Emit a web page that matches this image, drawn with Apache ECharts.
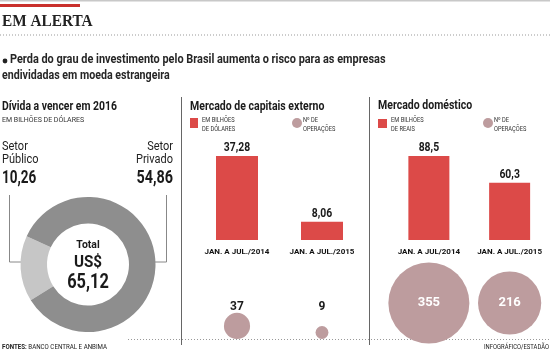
<!DOCTYPE html>
<html>
<head>
<meta charset="utf-8">
<script src="https://cdn.jsdelivr.net/npm/echarts@6/dist/echarts.min.js"></script>
<style>
  html, body { margin: 0; padding: 0; background: #fff; }
  #chart { width: 550px; height: 352px; }
</style>
</head>
<body>
<div id="chart"></div>
<script>
// dívida a vencer em 2016 (bilhões de dólares)
const sectorNames = ['Setor\nPúblico', 'Setor\nPrivado']
const sectorValues = [10.26, 54.86]
// mercado de capitais externo
const extCategories = ['JAN. A JUL./2014', 'JAN. A JUL./2015']
const extValues = [37.28, 8.06]
const extOps = [37, 9]
// mercado doméstico
const domCategories = ['JAN. A JUL/2014', 'JAN. A JUL./2015']
const domValues = [88.5, 60.3]
const domOps = [355, 216]

const RED = '#dc4a48'
const MAUVE = '#bd9c9e'
const SANS = "Roboto, 'Liberation Sans', sans-serif"
const SERIF = "'Liberation Serif', 'DejaVu Serif', serif"

const fmt = v => String(v).replace('.', ',')
// raio da bolha proporcional à raiz do nº de operações
const radius = v => 2.15 * Math.sqrt(v)

const total = sectorValues.reduce((a, b) => a + b, 0)

const myChart = echarts.init(document.getElementById('chart'))

// texto com compressão horizontal (a fonte original é condensada)
const txt = (text, x, y, font, opts = {}, sx = 1) => ({
  type: 'text', x, y, scaleX: sx,
  style: Object.assign({
    text, x: 0, y: 0, font, fill: '#1a1a1a',
    textAlign: 'left', textVerticalAlign: 'middle'
  }, opts)
})
const line = (x1, y1, x2, y2, opts = {}) => ({
  type: 'line',
  shape: { x1, y1, x2, y2 },
  style: Object.assign({ stroke: '#555', lineWidth: 1 }, opts)
})
const dotted = { stroke: '#999', lineWidth: 1, lineDash: [1, 2] }

const catAxis = (gridIndex, data, showLabel) => ({
  type: 'category', gridIndex, data,
  axisLine: { show: false }, axisTick: { show: false },
  axisLabel: {
    show: showLabel, margin: 8, color: '#111', interval: 0, hideOverlap: false,
    fontFamily: SANS, fontWeight: 'bold', fontSize: 8
  }
})
const valAxis = (gridIndex, min, max) => ({
  type: 'value', gridIndex, min, max, show: false,
  splitLine: { show: false }
})

// rótulo de valor acima da barra, condensado
const valueLabels = (axisIndex, values) => ({
  type: 'custom', xAxisIndex: axisIndex, yAxisIndex: axisIndex,
  silent: true,
  data: values.map((v, i) => [i, v]),
  renderItem: (params, api) => {
    const p = api.coord([api.value(0), api.value(1)])
    return {
      type: 'text', x: p[0], y: p[1] - 8, scaleX: 0.8,
      style: {
        text: fmt(api.value(1)), font: `bold 13px ${SANS}`, fill: '#1a1a1a',
        textAlign: 'center', textVerticalAlign: 'middle'
      }
    }
  }
})

const option = {
  animation: false,
  grid: [
    { left: 194.5, width: 170, top: 156, height: 84 },
    { left: 388.5, width: 170, top: 156, height: 84 },
    { left: 194.5, width: 170, top: 280, height: 59 },
    { left: 388.5, width: 170, top: 254, height: 100 }
  ],
  xAxis: [
    catAxis(0, extCategories, true),
    catAxis(1, domCategories, true),
    catAxis(2, extCategories, false),
    catAxis(3, domCategories, false)
  ],
  yAxis: [
    valAxis(0, 0, Math.max(...extValues)),
    valAxis(1, 0, Math.max(...domValues)),
    valAxis(2, 0, 1),
    valAxis(3, -1, 1)
  ],
  series: [
    {
      type: 'pie',
      center: [88, 264.5],
      radius: [41, 67.5],
      startAngle: 212,
      silent: true,
      label: { show: false },
      itemStyle: { borderWidth: 0 },
      data: sectorValues.map((v, i) => ({
        name: sectorNames[i], value: v,
        itemStyle: { color: i === 0 ? '#c6c6c6' : '#8e8e8e' }
      }))
    },
    {
      type: 'bar', xAxisIndex: 0, yAxisIndex: 0,
      data: extValues, barWidth: 42,
      itemStyle: { color: RED }
    },
    {
      type: 'bar', xAxisIndex: 1, yAxisIndex: 1,
      data: domValues, barWidth: 41,
      itemStyle: { color: RED }
    },
    valueLabels(0, extValues),
    valueLabels(1, domValues),
    {
      // bolhas apoiadas na linha de base, número acima
      type: 'scatter', xAxisIndex: 2, yAxisIndex: 2,
      data: extOps.map(v => ({
        value: 0, ops: v,
        symbolSize: radius(v) * 2,
        symbolOffset: [0, -radius(v)],
        label: { distance: Math.max(0, 26.5 - 2 * radius(v)) }
      })),
      itemStyle: { color: MAUVE, opacity: 1 },
      label: {
        show: true, position: 'top', color: '#1a1a1a',
        fontFamily: SANS, fontWeight: 'bold', fontSize: 12,
        formatter: p => String(p.data.ops)
      }
    },
    {
      type: 'scatter', xAxisIndex: 3, yAxisIndex: 3,
      data: domOps.map(v => ({ value: 0, ops: v, symbolSize: radius(v) * 2 })),
      itemStyle: { color: MAUVE, opacity: 1 },
      label: {
        show: true, position: 'inside', color: '#fff',
        fontFamily: SANS, fontWeight: 'bold', fontSize: 13,
        formatter: p => String(p.data.ops)
      }
    }
  ],
  graphic: [
    // cabeçalho
    { type: 'rect', shape: { x: 0, y: 0, width: 550, height: 1.5 }, style: { fill: '#c8c8c8' } },
    { type: 'rect', shape: { x: 0, y: 4, width: 80, height: 3 }, style: { fill: '#c9302c' } },
    txt('EM ALERTA', 2, 22, `bold 17px ${SERIF}`, { fill: '#222' }, 0.9),
    line(0, 35, 550, 35, dotted),
    { type: 'circle', shape: { cx: 5, cy: 61, r: 2.4 }, style: { fill: '#222' } },
    txt('Perda do grau de investimento pelo Brasil aumenta o risco para as empresas', 10, 60, `bold 13px ${SANS}`, { fill: '#262626' }, 0.84),
    txt('endividadas em moeda estrangeira', 2, 76, `bold 13px ${SANS}`, { fill: '#262626' }, 0.82),

    // painel 1
    txt('Dívida a vencer em 2016', 2, 107, `bold 13px ${SANS}`, {}, 0.8),
    txt('EM BILHÕES DE DÓLARES', 2, 120, `7px ${SANS}`, { fill: '#333' }, 1),
    txt(sectorNames[0], 2, 153.5, `12.5px ${SANS}`, { lineHeight: 13, fill: '#222' }, 0.88),
    txt(fmt(sectorValues[0]), 2, 178, `bold 18px ${SANS}`, {}, 0.75),
    txt(sectorNames[1], 173, 153.5, `12.5px ${SANS}`, { lineHeight: 13, fill: '#222', textAlign: 'right' }, 0.88),
    txt(fmt(sectorValues[1]), 173, 178, `bold 18px ${SANS}`, { textAlign: 'right' }, 0.8),
    line(9.5, 195, 9.5, 262, { stroke: '#888' }),
    line(9.5, 262, 22, 262, { stroke: '#888' }),
    line(166.5, 195, 166.5, 262, { stroke: '#888' }),
    line(152, 262, 166.5, 262, { stroke: '#888' }),
    txt('Total', 88, 245, `bold 11px ${SANS}`, { textAlign: 'center' }, 0.95),
    txt('US$', 88, 263, `bold 16px ${SANS}`, { textAlign: 'center' }, 0.95),
    txt(total.toFixed(2).replace('.', ','), 88, 283, `bold 21px ${SANS}`, { textAlign: 'center' }, 0.78),

    // separadores
    line(181.5, 97, 181.5, 345, { stroke: '#666' }),
    line(369.5, 97, 369.5, 345, { stroke: '#666' }),

    // painel 2
    txt('Mercado de capitais externo', 190, 107, `bold 13px ${SANS}`, {}, 0.81),
    { type: 'rect', shape: { x: 190, y: 118, width: 8, height: 10 }, style: { fill: RED } },
    txt('EM BILHÕES\nDE DÓLARES', 202, 125, `6.5px ${SANS}`, { lineHeight: 9, fill: '#333' }, 0.88),
    { type: 'circle', shape: { cx: 297, cy: 123, r: 5 }, style: { fill: MAUVE } },
    txt('Nº DE\nOPERAÇÕES', 303, 125, `6.5px ${SANS}`, { lineHeight: 9, fill: '#333' }, 0.88),

    // painel 3
    txt('Mercado doméstico', 378, 106, `bold 13px ${SANS}`, {}, 0.81),
    { type: 'rect', shape: { x: 378, y: 119, width: 9, height: 9 }, style: { fill: RED } },
    txt('EM BILHÕES\nDE REAIS', 391, 125, `6.5px ${SANS}`, { lineHeight: 9, fill: '#333' }, 0.88),
    { type: 'circle', shape: { cx: 488, cy: 123, r: 5 }, style: { fill: MAUVE } },
    txt('Nº DE\nOPERAÇÕES', 494, 125, `6.5px ${SANS}`, { lineHeight: 9, fill: '#333' }, 0.88),

    // rodapé
    line(128, 339.5, 550, 339.5, dotted),
    {
      type: 'text', x: 2, y: 347, scaleX: 0.95,
      style: {
        x: 0, y: 0, textVerticalAlign: 'middle',
        text: '{b|FONTES:} BANCO CENTRAL E ANBIMA',
        font: `6.5px ${SANS}`, fill: '#222',
        rich: { b: { fontWeight: 'bold', fontSize: 6.5, fontFamily: SANS } }
      }
    },
    txt('INFOGRÁFICO/ESTADÃO', 549, 347, `6.5px ${SANS}`, { textAlign: 'right', fill: '#222' }, 0.9)
  ]
}

myChart.setOption(option)
</script>
</body>
</html>
